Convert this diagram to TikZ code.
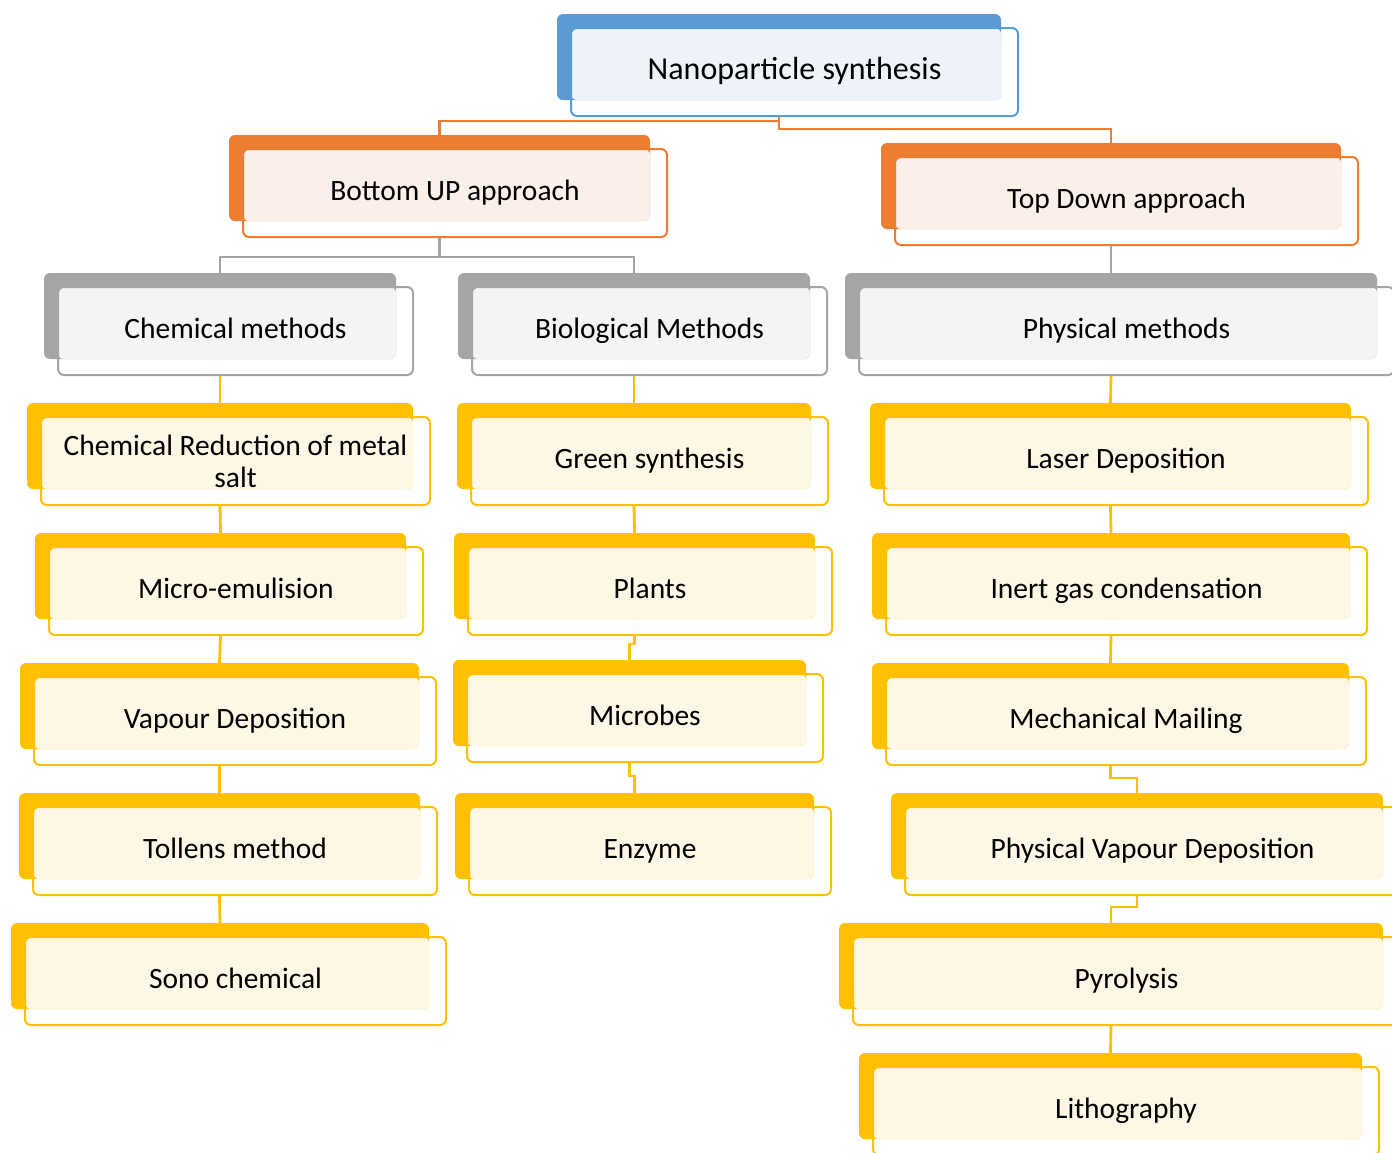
\documentclass[tikz,border=0pt]{standalone}
\usepackage{fontspec}
\setmainfont{Carlito}
\usetikzlibrary{calc}
\pgfdeclarelayer{bg}
\pgfsetlayers{bg,main}
\definecolor{cBlue}{HTML}{5B9BD5}
\definecolor{fBlue}{HTML}{EEF3FA}
\definecolor{cOrange}{HTML}{ED7D31}
\definecolor{fOrange}{HTML}{FBEFEA}
\definecolor{cGray}{HTML}{A5A5A5}
\definecolor{fGray}{HTML}{F4F4F4}
\definecolor{cYellow}{HTML}{FFC000}
\definecolor{fYellow}{HTML}{FFF7E5}
\tikzset{
  conn/.style={line width=2.8pt},
  backbox/.style={rounded corners=6pt, inner sep=0pt, outer sep=0pt},
  frontbox/.style={rounded corners=6pt, line width=2pt, inner sep=0pt, outer sep=0pt, align=center, font=\fontsize{29.5}{32}\selectfont},
  onel/.style={text height=21pt, text depth=6pt}
}
% #1 optional text style, #2 name, #3 x1, #4 y1, #5 x2, #6 y2 (back box), #7 colour, #8 fill, #9 text
\newcommand\tbox[9][onel]{%
  \node[backbox, fill=#7, minimum width={(#5)-(#3)}, minimum height={(#6)-(#4)}] (#2B) at ({((#3)+(#5))/2},{((#4)+(#6))/2}) {};
  \fill[#8, rounded corners=6pt] ({(#3)+14},{(#4)+14}) rectangle ({#5},{#6});
  \node[frontbox, #1, draw=#7, minimum width={(#5)-(#3)+3}, minimum height={(#6)-(#4)+2}] (#2) at ({((#3)+(#5)+31)/2},{((#4)+(#6)+30)/2}) {#9};
}
\begin{document}
\begin{tikzpicture}[x=1pt,y=-1pt]
\useasboundingbox (0,0) rectangle (1392,1152);
\begin{pgfonlayer}{bg}
\fill[white] (0,0) rectangle (1392,1152);
\end{pgfonlayer}

% boxes
\tbox{root}{557}{14}{1001}{100}{cBlue}{fBlue}{\fontsize{32}{34}\selectfont Nanoparticle synthesis}
\tbox{bot}{229}{135}{650}{221}{cOrange}{fOrange}{Bottom UP approach}
\tbox{top}{881}{143}{1341}{229}{cOrange}{fOrange}{Top Down approach}

\tbox{chem}{44}{273}{396}{359}{cGray}{fGray}{Chemical methods}
\tbox{bio}{458}{273}{810}{359}{cGray}{fGray}{Biological Methods}
\tbox{phys}{845}{273}{1377}{359}{cGray}{fGray}{Physical methods}

\tbox[]{red}{27}{403}{413}{489}{cYellow}{fYellow}{Chemical Reduction of metal\\salt}
\tbox{emul}{35}{533}{406}{619}{cYellow}{fYellow}{Micro-emulision}
\tbox{vap}{20}{663}{419}{749}{cYellow}{fYellow}{Vapour Deposition}
\tbox{toll}{19}{793}{420}{879}{cYellow}{fYellow}{Tollens method}
\tbox{sono}{11}{923}{429}{1009}{cYellow}{fYellow}{Sono chemical}

\tbox{green}{457}{403}{811}{489}{cYellow}{fYellow}{Green synthesis}
\tbox{plant}{454}{533}{815}{619}{cYellow}{fYellow}{Plants}
\tbox{mic}{453}{660}{806}{746}{cYellow}{fYellow}{Microbes}
\tbox{enz}{455}{793}{814}{879}{cYellow}{fYellow}{Enzyme}

\tbox{laser}{870}{403}{1351}{489}{cYellow}{fYellow}{Laser Deposition}
\tbox{inert}{872}{533}{1350}{619}{cYellow}{fYellow}{Inert gas condensation}
\tbox{mech}{872}{663}{1349}{749}{cYellow}{fYellow}{Mechanical Mailing}
\tbox{pvd}{891}{793}{1383}{879}{cYellow}{fYellow}{Physical Vapour Deposition}
\tbox{pyro}{839}{923}{1383}{1009}{cYellow}{fYellow}{Pyrolysis}
\tbox{litho}{859}{1053}{1362}{1139}{cYellow}{fYellow}{Lithography}

% connectors
\begin{pgfonlayer}{bg}
\draw[conn, cOrange] (rootB.center |- root.south) -- ++(0,5) -| (botB.north);
\draw[conn, cOrange] (rootB.center |- root.south) -- ++(0,13) -| (topB.north);
\draw[conn, cGray] (botB.center |- bot.south) -- ++(0,20) -| (chemB.north);
\draw[conn, cGray] (botB.center |- bot.south) -- ++(0,20) -| (bioB.north);
\draw[conn, cGray] (topB.center |- top.south) -- (physB.north);

\draw[conn, cYellow] (chemB.center |- chem.south) -- (redB.north);
\draw[conn, cYellow] (redB.center |- red.south) -- (emulB.north);
\draw[conn, cYellow] (emulB.center |- emul.south) -- (vapB.north);
\draw[conn, cYellow] (vapB.center |- vap.south) -- (tollB.north);
\draw[conn, cYellow] (tollB.center |- toll.south) -- (sonoB.north);

\draw[conn, cYellow] (bioB.center |- bio.south) -- (greenB.north);
\draw[conn, cYellow] (greenB.center |- green.south) -- (plantB.north);
\draw[conn, cYellow] (plantB.center |- plant.south) -- ++(0,9) -| (micB.north);
\draw[conn, cYellow] (micB.center |- mic.south) -- ++(0,14) -| (enzB.north);

\draw[conn, cYellow] (physB.center |- phys.south) -- (laserB.north);
\draw[conn, cYellow] (laserB.center |- laser.south) -- (inertB.north);
\draw[conn, cYellow] (inertB.center |- inert.south) -- (mechB.north);
\draw[conn, cYellow] (mechB.center |- mech.south) -- ++(0,13) -| (pvdB.north);
\draw[conn, cYellow] (pvdB.center |- pvd.south) -- ++(0,12) -| (pyroB.north);
\draw[conn, cYellow] (pyroB.center |- pyro.south) -- (lithoB.north);
\end{pgfonlayer}
\end{tikzpicture}
\end{document}
